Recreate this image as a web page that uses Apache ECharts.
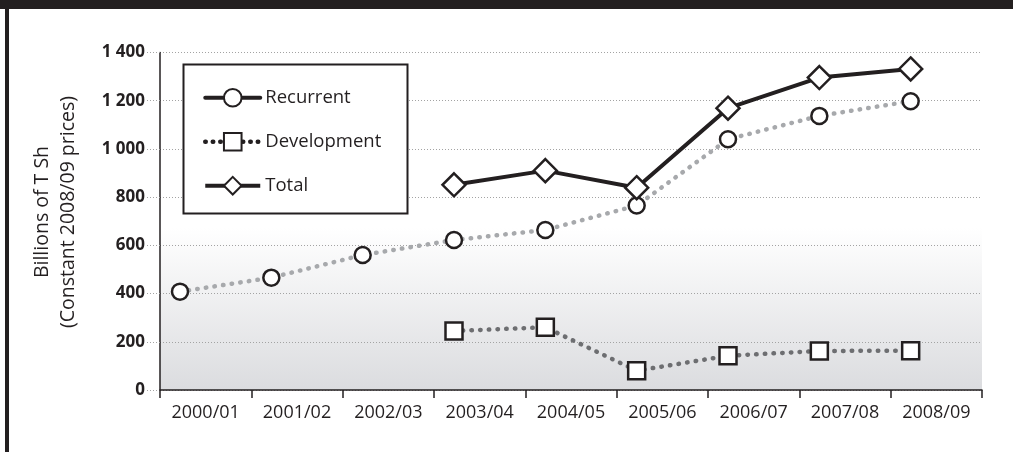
<!DOCTYPE html>
<html>
<head>
<meta charset="utf-8">
<script src="https://cdn.jsdelivr.net/npm/echarts@6/dist/echarts.min.js"></script>
<style>
  html, body { margin: 0; padding: 0; background: #ffffff; }
  #chart { width: 1013px; height: 452px; }
</style>
</head>
<body>
<div id="chart"></div>
<script>
// Fiscal years on the horizontal axis
const years = ['2000/01', '2001/02', '2002/03', '2003/04', '2004/05', '2005/06', '2006/07', '2007/08', '2008/09'];

// Spending, billions of T Sh (constant 2008/09 prices); null = no figure
const recurrent   = [408, 466, 560, 622, 664, 765, 1040, 1137, 1198];
const development = [null, null, null, 245, 260, 80, 142, 162, 163];
const total       = [null, null, null, 851, 910, 839, 1169, 1296, 1332];

// Vertical axis ticks
const yTicks = [0, 200, 400, 600, 800, 1000, 1200, 1400];

const INK = '#231f20';
const FONT = '"Open Sans", "Noto Sans", sans-serif';

// Pair each value with its year index for the point axis
function pairs(values) {
  const out = [];
  values.forEach((v, i) => { if (v !== null) out.push([i, v]); });
  return out;
}

function fmtThousands(v) {
  return String(v).replace(/\B(?=(\d{3})+(?!\d))/g, ' ');
}

const markerStyle = { color: '#ffffff', borderColor: INK, borderWidth: 2.5 };

const chart = echarts.init(document.getElementById('chart'), null, { renderer: 'canvas' });

chart.setOption({
  animation: false,
  backgroundColor: '#ffffff',
  textStyle: { fontFamily: FONT },
  grid: {
    left: 160, right: 31, top: 52.5, bottom: 62,
    show: true,
    borderWidth: 0,
    backgroundColor: {
      type: 'linear', x: 0, y: 0, x2: 0, y2: 1,
      colorStops: [
        { offset: 0, color: '#ffffff' },
        { offset: 0.52, color: '#ffffff' },
        { offset: 1, color: '#dbdcdf' }
      ]
    }
  },
  xAxis: [
    {
      // labelled year bands
      type: 'category',
      data: years,
      boundaryGap: true,
      axisLine: { show: true, onZero: false, lineStyle: { color: INK, width: 1.5 } },
      axisTick: { show: true, interval: 0, length: 8, lineStyle: { color: INK, width: 1.5 } },
      axisLabel: { color: INK, fontSize: 18, fontFamily: FONT, margin: 14 },
      splitLine: { show: false }
    },
    {
      // point positions: each year sits a little left of its band centre
      type: 'value',
      min: -0.219,
      max: 8.781,
      show: false,
      axisLine: { onZero: false },
      splitLine: { show: false }
    }
  ],
  yAxis: {
    type: 'value',
    min: yTicks[0],
    max: yTicks[yTicks.length - 1],
    interval: yTicks[1] - yTicks[0],
    axisLine: { show: true, onZero: false, lineStyle: { color: INK, width: 1.5 } },
    axisTick: { show: true, length: 13, lineStyle: { color: '#a3a3a3', width: 1, type: [1, 2] } },
    axisLabel: {
      color: INK, fontSize: 17, fontWeight: 'bold', fontFamily: FONT, margin: 15,
      formatter: fmtThousands
    },
    splitLine: { show: true, lineStyle: { color: '#a3a3a3', width: 1, type: [1, 2] } }
  },
  legend: {
    orient: 'vertical',
    left: 203,
    top: 86.7,
    padding: 0,
    itemWidth: 55,
    itemHeight: 22,
    itemGap: 22,
    z: 5,
    selectedMode: false,
    textStyle: { color: INK, fontSize: 18.5, fontFamily: FONT, lineHeight: 22 },
    data: [
      { name: 'Recurrent', lineStyle: { color: INK, width: 4, type: 'solid' } },
      { name: 'Development', lineStyle: { color: INK, width: 4.5, type: [0.5, 7], cap: 'round' } },
      { name: 'Total', lineStyle: { color: INK, width: 4, type: 'solid' } }
    ]
  },
  graphic: [
    { type: 'rect', z: 10, shape: { x: 0, y: 0, width: 1013, height: 9 }, style: { fill: INK } },
    { type: 'rect', z: 10, shape: { x: 5, y: 0, width: 4, height: 452 }, style: { fill: INK } },
    {
      type: 'rect', z: 3,
      shape: { x: 183.5, y: 64.5, width: 224, height: 149 },
      style: { fill: '#ffffff', stroke: INK, lineWidth: 2 }
    },
    {
      type: 'text', z: 3,
      x: 55, y: 212,
      rotation: Math.PI / 2,
      style: {
        text: 'Billions of T Sh\n(Constant 2008/09 prices)',
        fill: INK, font: '19.5px ' + FONT,
        align: 'center', verticalAlign: 'middle', lineHeight: 26
      }
    }
  ],
  series: [
    {
      name: 'Recurrent',
      type: 'line',
      xAxisIndex: 1,
      data: pairs(recurrent),
      symbol: 'circle',
      symbolSize: 16,
      itemStyle: markerStyle,
      lineStyle: { color: '#a7a9ac', width: 4.5, type: [0.5, 8.2], cap: 'round' },
      emphasis: { disabled: true },
      z: 2
    },
    {
      name: 'Development',
      type: 'line',
      xAxisIndex: 1,
      data: pairs(development),
      symbol: 'rect',
      symbolSize: 17,
      itemStyle: markerStyle,
      lineStyle: { color: '#6d6e71', width: 4.5, type: [0.5, 8.2], cap: 'round' },
      emphasis: { disabled: true },
      z: 2
    },
    {
      name: 'Total',
      type: 'line',
      xAxisIndex: 1,
      data: pairs(total),
      symbol: 'diamond',
      symbolSize: 23,
      itemStyle: markerStyle,
      lineStyle: { color: INK, width: 4 },
      emphasis: { disabled: true },
      z: 3
    }
  ]
});
</script>
</body>
</html>
